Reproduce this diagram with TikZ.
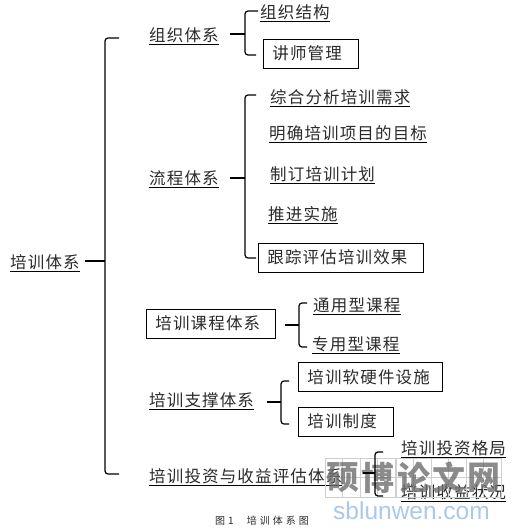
\documentclass[tikz,border=0pt]{standalone}
\usepackage{fontspec}
\setmainfont[LetterSpace=7]{Noto Sans CJK SC}
\newfontfamily\wmfont{Noto Sans CJK SC}
\newfontfamily\latinwm{Liberation Sans}
\definecolor{ink}{HTML}{2A2A2A}
\definecolor{wmgray}{HTML}{6E6E6E}
\definecolor{wmgrid}{HTML}{CFCFCF}
\definecolor{wmblue}{HTML}{A9C8EE}
\tikzset{
  txt/.style={anchor=west,inner xsep=0pt,inner ysep=0pt,minimum height=18pt,text=ink,font=\fontsize{16.5pt}{18pt}\selectfont},
  boxn/.style={draw=black,line width=0.8pt,anchor=west,inner xsep=9pt,inner ysep=0pt,text width=#1pt-18pt,minimum height=29pt,text=ink,font=\fontsize{16.5pt}{18pt}\selectfont},
  uline/.style={draw=black,line width=0.8pt},
  brk/.style={draw=black,line width=1.2pt,rounded corners=3pt},
  tick/.style={draw=black,line width=1.2pt},
  wmcell/.style={draw=wmgrid,line width=0.6pt,minimum width=35pt,minimum height=39pt,inner sep=0pt,text=wmgray,text opacity=0.8,font=\wmfont\bfseries\fontsize{33pt}{35pt}\selectfont,
    path picture={\draw[wmgrid,line width=0.4pt] (path picture bounding box.north) -- (path picture bounding box.south) (path picture bounding box.west) -- (path picture bounding box.east);}},
  capt/.style={anchor=west,inner sep=0pt,text=ink,font=\wmfont\fontsize{10pt}{12pt}\selectfont}
}
\newcommand{\ul}[1]{\draw[uline] (#1.south west) -- (#1.south east);}
\newcommand{\brkt}[5]{%
  \coordinate (#1t) at #2; \coordinate (#1j) at #3; \coordinate (#1b) at #4; \coordinate (#1s) at #5;
  \draw[brk] (#1t) -| (#1j) |- (#1b);
  \draw[tick] (#1s) -- (#1j);}
\begin{document}
\begin{tikzpicture}[x=1pt,y=-1pt]
\useasboundingbox (0,0) rectangle (514,530);
% root
\node[txt] (root) at (10,262) {培训体系}; \ul{root}
\brkt{m}{(119,38)}{(105,261)}{(119,474)}{(85,261)}
% organisation
\node[txt] (org) at (149,35) {组织体系}; \ul{org}
\brkt{a}{(258,11)}{(245,34)}{(256,55)}{(230,34)}
\node[txt] (a1) at (260,12) {组织结构}; \ul{a1}
\node[boxn=95] (a2) at (263,53.5) {讲师管理};
% process
\node[txt] (flow) at (149,178) {流程体系}; \ul{flow}
\brkt{b}{(256,95)}{(245,178)}{(256,258)}{(230,178)}
\node[txt] (b1) at (270,97) {综合分析培训需求}; \ul{b1}
\node[txt] (b2) at (269,133) {明确培训项目的目标}; \ul{b2}
\node[txt] (b3) at (270,174) {制订培训计划}; \ul{b3}
\node[txt] (b4) at (268,214) {推进实施}; \ul{b4}
\node[boxn=165] (b5) at (258,257.5) {跟踪评估培训效果};
% courses
\node[boxn=129] (c) at (146,323.5) {培训课程体系};
\brkt{c}{(307,303)}{(299,325)}{(307,347)}{(285,325)}
\node[txt] (c1) at (313,305) {通用型课程}; \ul{c1}
\node[txt] (c2) at (312,344) {专用型课程}; \ul{c2}
% support
\node[txt] (d) at (149,400) {培训支撑体系}; \ul{d}
\brkt{d}{(289,381)}{(281,402)}{(289,424)}{(267,402)}
\node[boxn=144] (d1) at (298,377) {培训软硬件设施};
\node[boxn=95] (d2) at (298,421.5) {培训制度};
% investment
\node[txt] (e) at (149,476) {培训投资与收益评估体系}; \ul{e}
\node[txt] (e1) at (401,448) {培训投资格局}; \ul{e1}
\node[txt] (e2) at (401,492) {培训收益状况}; \ul{e2}
% watermark
\node[wmcell] (w1) at (342.5,477.5) {硕};
\node[wmcell] (w2) at (377.5,477.5) {博};
\node[wmcell] (w3) at (413.5,477.5) {论};
\node[wmcell] (w4) at (448.5,477.5) {文};
\node[wmcell] (w5) at (483.5,477.5) {网};
\brkt{e}{(383,452)}{(375,473)}{(383,496)}{(363,473)}
\node[inner sep=0pt,text=wmblue,font=\latinwm\fontsize{24.5pt}{26pt}\selectfont] (wm) at (411.5,511) {sblunwen.com};
% caption
\node[capt] (cap) at (215,520.5) {图\hspace{3pt}1\hspace{13pt}培\hspace{3pt}训\hspace{3pt}体\hspace{3pt}系\hspace{3pt}图};
\end{tikzpicture}
\end{document}
